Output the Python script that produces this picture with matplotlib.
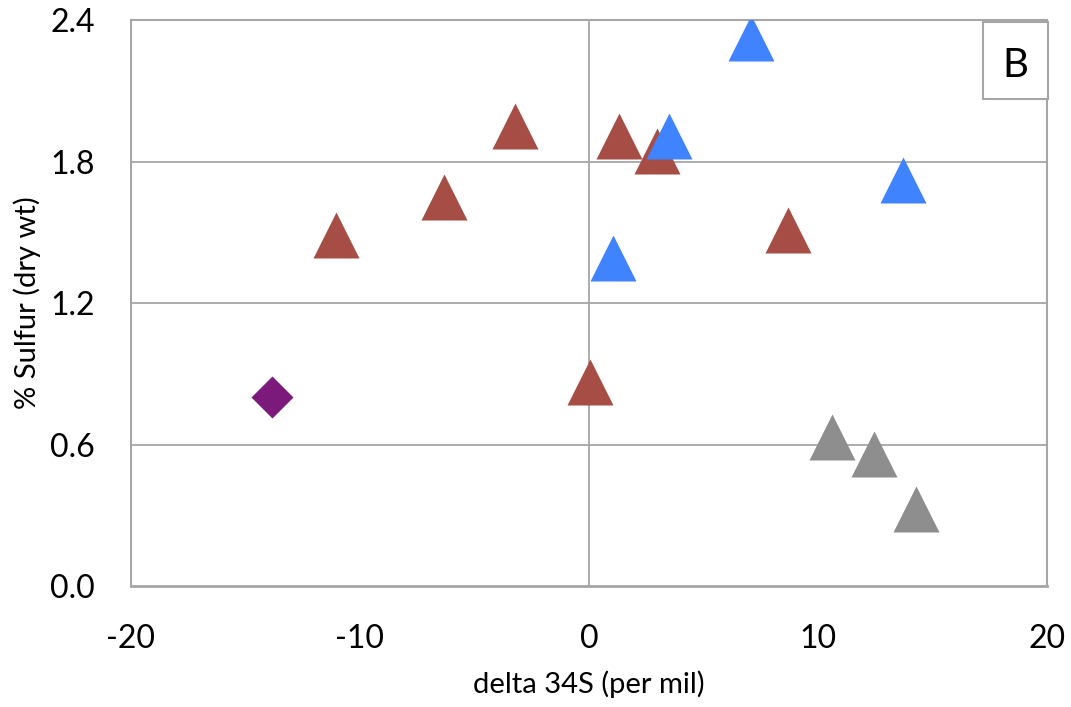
import matplotlib.pyplot as plt
from matplotlib.patches import Rectangle

plt.rcParams['font.family'] = ['Lato', 'DejaVu Sans']

# data: delta 34S (per mil) vs % sulfur
red_x = [-11.05, -6.35, -3.22, 1.33, 2.95, 8.67, 0.04]
red_y = [1.49, 1.65, 1.95, 1.91, 1.845, 1.51, 0.866]
blue_x = [7.08, 3.50, 1.04, 13.70]
blue_y = [2.325, 1.91, 1.39, 1.72]
gray_x = [10.6, 12.46, 14.28]
gray_y = [0.632, 0.558, 0.327]
purple_x = [-13.83]
purple_y = [0.80]

xticks = [-20, -10, 0, 10, 20]
yticks = [0.0, 0.6, 1.2, 1.8, 2.4]

GRID = '#A6A6A6'

fig = plt.figure(figsize=(10.71, 7.07), dpi=100)
ax = fig.add_axes([0.1223, 0.1711, 0.9776 - 0.1223, 0.9717 - 0.1711])

ax.set_xlim(-20, 20)
ax.set_ylim(0, 2.4)

# gridlines + y-axis crossing at 0
for yv in yticks[1:-1]:
    ax.axhline(yv, color=GRID, lw=1.3, zorder=1)
ax.axvline(0, color=GRID, lw=1.3, zorder=1)

ax.plot(red_x, red_y, '^', ms=32.5, color='#A64D45', mec='none', zorder=3)
ax.plot(blue_x, blue_y, '^', ms=32.5, color='#4083FF', mec='none', zorder=4)
ax.plot(gray_x, gray_y, '^', ms=32.5, color='#8E8E8E', mec='none', zorder=3)
ax.plot(purple_x, purple_y, 'D', ms=21, color='#7B1A7B', mec='none', zorder=3)

for s in ax.spines.values():
    s.set_color(GRID)
    s.set_linewidth(1.5)
ax.spines['bottom'].set_linewidth(2)

ax.set_xticks(xticks)
ax.set_yticks(yticks)
ax.set_xticklabels([str(v) for v in xticks])
ax.set_yticklabels([f"{v:.1f}" for v in yticks])
ax.tick_params(length=0, labelsize=23)
ax.tick_params(axis='x', pad=27)
ax.tick_params(axis='y', pad=26)

ax.set_xlabel('delta 34S (per mil)', fontsize=21)
ax.xaxis.set_label_coords(0.5, -0.149)
ax.set_ylabel('% Sulfur (dry wt)', fontsize=21)
ax.yaxis.set_label_coords(-0.098, 0.5)

# panel letter box
ax.add_patch(Rectangle((0.930, 0.8604), 0.071, 0.136, transform=ax.transAxes,
                       fc='white', ec=GRID, lw=1.5, zorder=5, clip_on=False))
ax.text(0.965, 0.9205, 'B', transform=ax.transAxes, fontsize=29,
        ha='center', va='center', zorder=6)

fig.savefig('out.png', dpi=100)
